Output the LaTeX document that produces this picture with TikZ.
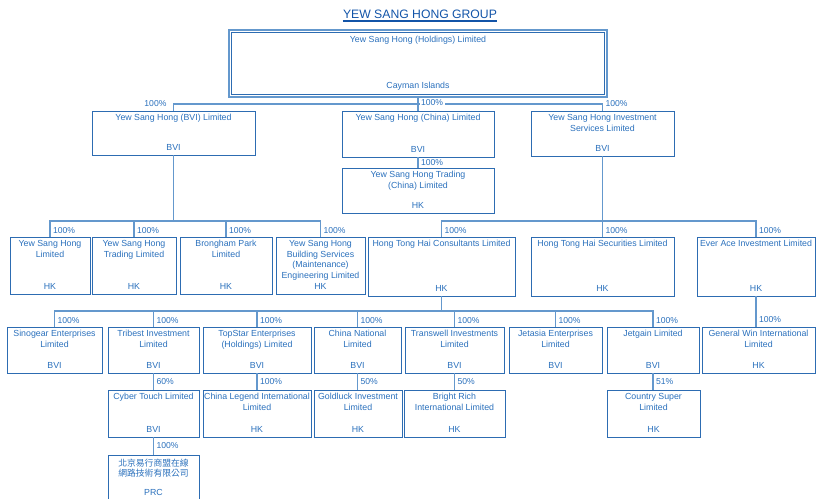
\documentclass[tikz,border=0pt]{standalone}
\usepackage{fontspec}
\setmainfont{Liberation Sans}
\newfontfamily\cjk{Noto Sans CJK TC}
\usetikzlibrary{fit}
\definecolor{colBox}{RGB}{45,108,178}
\definecolor{colLink}{RGB}{100,152,205}
\definecolor{colText}{RGB}{42,112,188}
\definecolor{colTitle}{RGB}{18,84,168}
\tikzset{
    firm/.style={rectangle, draw=colBox, line width=0.8pt, inner sep=0pt},
    holdfirm/.style={rectangle, draw=colLink, line width=1.2pt, inner sep=0pt},
    firmname/.style={anchor=north, inner xsep=1pt, inner ysep=3.8pt, align=center,
        text=colText, font=\fontsize{8.8}{10.5}\selectfont},
    firmplace/.style={anchor=south, inner xsep=1pt, inner ysep=4.3pt,
        text=colText, font=\fontsize{8.8}{10.5}\selectfont},
    pct/.style={inner sep=1.5pt, text=colText, font=\fontsize{8.6}{10}\selectfont},
    link/.style={draw=colLink, line width=1.1pt}
}
% box with name on top and place of incorporation at the bottom
\newcommand{\firm}[8][firm]{%
    \node[#1, fit={(#3,#4) (#5,#6)}] (#2) {};
    \node[firmname] (#2-name) at (#2.north) {#7};
    \node[firmplace] (#2-place) at (#2.south) {#8};
}

\begin{document}
\begin{tikzpicture}[x=1pt, y=-1pt]

    \useasboundingbox (0,0) rectangle (816,498);

    \node[anchor=base, inner sep=0pt, text=colTitle, font=\fontsize{12.2}{14}\selectfont] (title) at (420,18.4) {YEW SANG HONG GROUP};
    \draw[colTitle, line width=1.1pt] ([yshift=-2.6pt]title.base west) -- ([yshift=-2.6pt]title.base east);

    % holding company (double frame) and first level
    \node[holdfirm, fit={(229,30) (607,97)}] (holding) {};
    \firm{holding-in}{231.5}{32.5}{604.5}{94.5}{Yew Sang Hong (Holdings) Limited}{Cayman Islands}
    \firm{bvi}{92}{111}{255}{155}{Yew Sang Hong (BVI) Limited}{BVI}
    \firm{china}{342}{111}{494}{157}{Yew Sang Hong (China) Limited}{BVI}
    \firm{invest}{531}{111}{674}{156}{Yew Sang Hong Investment\\Services Limited}{BVI}
    \firm{trading}{342}{168}{494}{213}{Yew Sang Hong Trading\\(China) Limited}{HK}

    % second level
    \firm{yshltd}{10}{237}{90}{294}{Yew Sang Hong\\Limited}{HK}
    \firm{yshtrd}{92}{237}{176}{294}{Yew Sang Hong\\Trading Limited}{HK}
    \firm{brong}{180}{237}{272}{294}{Brongham Park\\Limited}{HK}
    \firm{bldg}{276}{237}{365}{294}{Yew Sang Hong\\Building Services\\(Maintenance)\\Engineering Limited}{HK}
    \firm{hthc}{368}{237}{515}{296}{Hong Tong Hai Consultants Limited}{HK}
    \firm{hths}{531}{237}{674}{296}{Hong Tong Hai Securities Limited}{HK}
    \firm{everace}{697}{237}{815}{296}{Ever Ace Investment Limited}{HK}

    % third level
    \firm{sino}{7}{327}{102}{373}{Sinogear Enterprises\\Limited}{BVI}
    \firm{tribest}{108}{327}{199}{373}{Tribest Investment\\Limited}{BVI}
    \firm{topstar}{203}{327}{311}{373}{TopStar Enterprises\\(Holdings) Limited}{BVI}
    \firm{chinat}{314}{327}{401}{373}{China National\\Limited}{BVI}
    \firm{transw}{405}{327}{504}{373}{Transwell Investments\\Limited}{BVI}
    \firm{jetasia}{509}{327}{602}{373}{Jetasia Enterprises\\Limited}{BVI}
    \firm{jetgain}{607}{327}{699}{373}{Jetgain Limited}{BVI}
    \firm{genwin}{702}{327}{815}{373}{General Win International\\Limited}{HK}

    % fourth level
    \firm{cyber}{108}{390}{199}{437}{Cyber Touch Limited}{BVI}
    \firm{legend}{203}{390}{311}{437}{China Legend International\\Limited}{HK}
    \firm{goldl}{314}{390}{402}{437}{Goldluck Investment\\Limited}{HK}
    \firm{bright}{404}{390}{505}{437}{Bright Rich\\International Limited}{HK}
    \firm{country}{607}{390}{700}{437}{Country Super\\Limited}{HK}
    \firm{prc}{108}{455}{199}{500}{{\cjk 北京易行商盟在線}\\{\cjk 網路技術有限公司}}{PRC}

    \coordinate (bus1) at (0,104);
    \coordinate (bus2) at (0,221);
    \coordinate (bus3) at (0,311);

    \draw[link] (bvi.north) |- node[pct, left=5pt, pos=0.5] (p-bvi) {100\%} (invest.north |- bus1)
        -- node[pct, right=1pt, pos=0] (p-invest) {100\%} (invest.north);
    \draw[link] (holding.south) -- node[pct, right=1pt, fill=white, pos=0.4] (p-china) {100\%} (china.north);
    \draw[link] (china.south) -- node[pct, right=1pt] (p-trading) {100\%} (trading.north);

    \foreach \sub in {yshltd, yshtrd, brong, bldg}
        \draw[link] (bvi.south) |- (\sub.north |- bus2) -- node[pct, right=1pt, pos=0.6] (p-\sub) {100\%} (\sub.north);
    \foreach \sub in {hthc, hths, everace}
        \draw[link] (invest.south) |- (\sub.north |- bus2) -- node[pct, right=1pt, pos=0.6] (p-\sub) {100\%} (\sub.north);
    \foreach \sub in {sino, tribest, topstar, chinat, transw, jetasia, jetgain}
        \draw[link] (hthc.south) |- (\sub.north |- bus3) -- node[pct, right=1pt, pos=0.6] (p-\sub) {100\%} (\sub.north);

    \draw[link] (everace.south) -- node[pct, right=1pt, pos=0.78] (p-genwin) {100\%} (everace.south |- genwin.north);
    \draw[link] (tribest.south) -- node[pct, right=1pt] (p-cyber) {60\%} (tribest.south |- cyber.north);
    \draw[link] (topstar.south) -- node[pct, right=1pt] (p-legend) {100\%} (topstar.south |- legend.north);
    \draw[link] (chinat.south) -- node[pct, right=1pt] (p-goldl) {50\%} (chinat.south |- goldl.north);
    \draw[link] (transw.south) -- node[pct, right=1pt] (p-bright) {50\%} (transw.south |- bright.north);
    \draw[link] (jetgain.south) -- node[pct, right=1pt] (p-country) {51\%} (jetgain.south |- country.north);
    \draw[link] (cyber.south) -- node[pct, right=1pt] (p-prc) {100\%} (prc.north);

\end{tikzpicture}
\end{document}
